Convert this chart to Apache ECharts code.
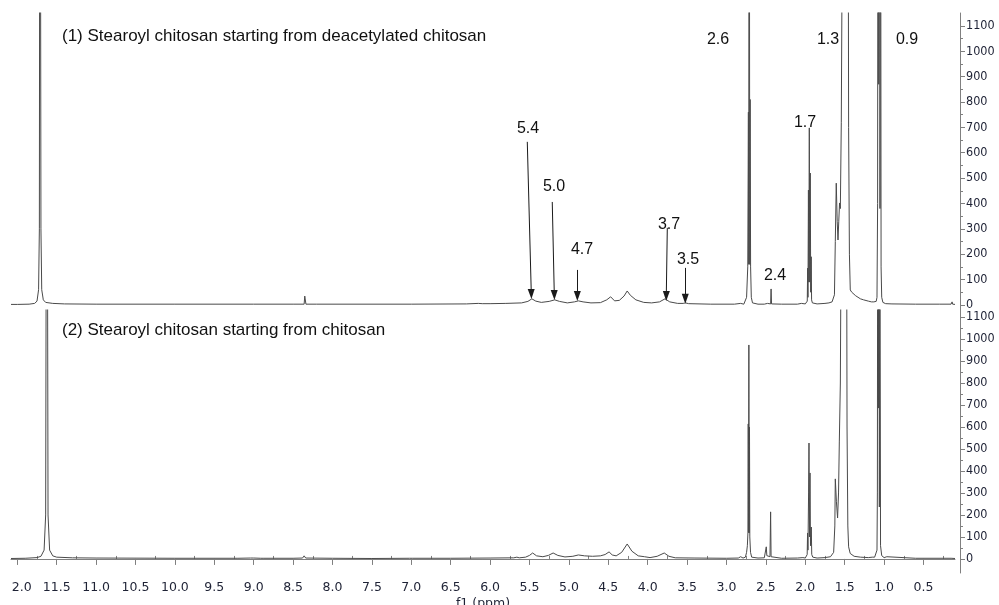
<!DOCTYPE html>
<html>
<head>
<meta charset="utf-8">
<script src="https://cdn.jsdelivr.net/npm/echarts@6/dist/echarts.min.js"></script>
<style>
html,body{margin:0;padding:0;background:#fff;}
#chart{width:999px;height:605px;}
</style>
</head>
<body>
<div id="chart"></div>
<script>
// ---------- data ----------
// x axis tick values (ppm) and the labels as shown (the 12.0 label is clipped to "2.0")
const xTickValues = [12.0,11.5,11.0,10.5,10.0,9.5,9.0,8.5,8.0,7.5,7.0,6.5,6.0,5.5,5.0,4.5,4.0,3.5,3.0,2.5,2.0,1.5,1.0,0.5];
const xTickLabels = ['2.0','11.5','11.0','10.5','10.0','9.5','9.0','8.5','8.0','7.5','7.0','6.5','6.0','5.5','5.0','4.5','4.0','3.5','3.0','2.5','2.0','1.5','1.0','0.5'];
const xMinorTickValues = [11.75,11.25,10.75,10.25,9.75,9.25,8.75,8.25,7.75,7.25,6.75,6.25,5.75,5.25,4.75,4.25,3.75,3.25,2.75,2.25,1.75,1.25,0.75,0.25];
const yTickValues = [0,100,200,300,400,500,600,700,800,900,1000,1100];
const yMinorTickValues = [50,150,250,350,450,550,650,750,850,950,1050];

// spectrum (1): stearoyl chitosan from deacetylated chitosan
const topPpm = [12.08,12.0,11.85,11.78,11.75,11.73,11.72,11.712,11.70,11.69,11.67,11.64,11.55,11.4,11.0,10.0,9.0,8.5,8.36,8.352,8.345,8.337,8.2,7.0,6.3,6.15,6.10,6.0,5.8,5.6,5.52,5.47,5.42,5.35,5.25,5.18,5.12,5.02,4.93,4.88,4.82,4.72,4.60,4.52,4.47,4.42,4.36,4.30,4.26,4.22,4.15,4.05,3.95,3.85,3.78,3.72,3.62,3.55,3.52,3.48,3.2,2.9,2.82,2.80,2.78,2.77,2.745,2.730,2.722,2.718,2.712,2.705,2.700,2.694,2.685,2.67,2.6,2.52,2.48,2.465,2.440,2.434,2.428,2.3,2.1,2.05,2.00,1.990,1.975,1.970,1.966,1.960,1.955,1.949,1.943,1.937,1.931,1.925,1.920,1.91,1.85,1.75,1.70,1.66,1.63,1.619,1.607,1.595,1.585,1.575,1.565,1.555,1.543,1.530,1.520,1.49,1.463,1.450,1.44,1.429,1.41,1.387,1.36,1.344,1.30,1.26,1.20,1.16,1.150,1.13,1.10,1.090,1.082,1.076,1.068,1.060,1.052,1.045,1.038,1.030,1.015,0.98,0.965,0.955,0.9,0.6,0.3,0.15,0.137,0.13,0.1];
const topIntensity = [2,2,3,6,15,60,300,3000,300,60,20,10,6,4,3,3,3,3,3,35,35,3,3,3,4,6,5,5,6,8,14,24,15,10,14,20,14,8,12,16,12,8,9,20,32,16,18,35,55,38,20,10,8,12,24,12,6,6,8,5,3,3,6,8,3,8,30,150,760,160,3000,160,810,150,30,8,3,3,6,3,4,63,4,3,3,6,4,5,15,145,30,453,90,698,90,520,50,190,20,8,4,6,8,12,40,250,480,330,256,330,402,380,718,1500,3000,5000,3000,700,200,59,50,47,36,31,24,20,15,12,16,12,14,30,400,3000,870,3000,380,2500,150,30,10,5,12,5,4,3,3,3,12,3,2];

// spectrum (2): stearoyl chitosan from chitosan
const bottomPpm = [12.08,11.9,11.75,11.70,11.66,11.64,11.625,11.61,11.59,11.55,11.50,11.3,11.0,10.0,9.2,9.04,9.02,9.00,8.91,8.89,8.87,8.5,8.38,8.36,8.34,8.0,7.5,7.02,7.0,6.98,6.5,6.0,5.70,5.66,5.63,5.55,5.50,5.46,5.41,5.33,5.26,5.20,5.14,5.05,4.95,4.88,4.80,4.70,4.60,4.54,4.49,4.45,4.40,4.33,4.26,4.20,4.12,4.04,3.97,3.88,3.79,3.73,3.65,3.4,3.0,2.85,2.82,2.79,2.76,2.745,2.735,2.728,2.724,2.720,2.716,2.712,2.708,2.704,2.695,2.68,2.6,2.52,2.505,2.495,2.488,2.48,2.448,2.440,2.434,2.42,2.3,2.1,2.03,2.0,1.985,1.976,1.971,1.966,1.958,1.953,1.947,1.940,1.934,1.924,1.918,1.905,1.85,1.75,1.68,1.64,1.625,1.619,1.605,1.590,1.578,1.568,1.555,1.545,1.535,1.51,1.484,1.470,1.460,1.450,1.43,1.408,1.38,1.30,1.20,1.15,1.12,1.10,1.090,1.085,1.078,1.072,1.066,1.060,1.054,1.045,1.03,1.0,0.965,0.955,0.6,0.15,0.14,0.132,0.1];
const bottomIntensity = [2,3,6,12,40,200,3000,200,40,14,8,5,4,3,3,4,9,4,3,7,3,3,4,14,4,3,2,3,5,3,3,4,5,8,5,8,16,27,14,10,16,27,16,9,12,18,14,12,14,20,32,18,14,30,68,35,14,10,6,12,27,12,5,4,3,4,10,4,8,30,60,118,614,120,973,118,600,100,30,8,4,5,10,55,15,8,10,214,10,5,3,4,6,4,8,20,118,40,300,527,100,391,60,145,20,8,4,6,10,30,150,364,260,186,300,532,800,1500,3000,5000,3000,600,150,55,25,18,12,8,6,8,8,12,40,300,3000,686,3000,236,2000,60,15,6,10,4,3,3,10,3,2];

// arrow annotations on spectrum (1): [ppm start, value start, ppm end, value end]
const arrows = [
  [5.528, 643, 5.477, 43],
  [5.211, 406, 5.185, 39],
  [4.893, 138, 4.893, 35],
  [3.751, 304, 3.764, 35],
  [3.523, 146, 3.523, 24]
];
// peak labels (text, pixel centre)
const peakLabels = [
  ['2.6', 718, 40], ['1.3', 828, 40], ['0.9', 907, 40],
  ['5.4', 528, 129], ['5.0', 554, 187], ['4.7', 582, 250],
  ['3.7', 669, 225], ['3.5', 688, 260], ['2.4', 775, 276], ['1.7', 805, 123]
];
const panelTitles = [
  ['(1) Stearoyl chitosan starting from deacetylated chitosan', 62, 36],
  ['(2) Stearoyl chitosan starting from chitosan', 62, 330]
];

// ---------- chart ----------
const zip = (a, b) => a.map((v, i) => [v, b[i]]);
const X_MIN = 0.1, X_MAX = 12.08;
const labelFont = 'DejaVu Sans, Verdana, sans-serif';
const yFont = '"DejaVu Sans Condensed", "Liberation Sans Narrow", "DejaVu Sans", sans-serif';
const textFont = '"Liberation Sans", Arial, sans-serif';
const axisGray = '#808080';
const labelColor = '#1e2235';

function yAxes(grid, min, max) {
  return [
    {
      type: 'value', gridIndex: grid, position: 'right', offset: 5, min: min, max: max,
      splitLine: {show: false},
      axisLine: {show: true, lineStyle: {color: axisGray, width: 1}},
      axisTick: {show: true, length: 5, customValues: yTickValues, lineStyle: {color: axisGray}},
      axisLabel: {show: true, customValues: yTickValues, margin: 6, fontFamily: yFont, fontSize: 12.5, color: labelColor,
        formatter: v => String(Math.round(v))}
    },
    {
      type: 'value', gridIndex: grid, position: 'right', offset: 5, min: min, max: max,
      splitLine: {show: false},
      axisLine: {show: false},
      axisTick: {show: true, length: 3, customValues: yMinorTickValues, lineStyle: {color: axisGray}},
      axisLabel: {show: false}
    }
  ];
}

const chart = echarts.init(document.getElementById('chart'), null, {renderer: 'canvas'});

const graphics = [];
panelTitles.forEach(t => graphics.push({
  type: 'text', x: t[1], y: t[2],
  style: {text: t[0], font: '17px ' + textFont, fill: '#111', align: 'left', verticalAlign: 'middle'}
}));
peakLabels.forEach(t => graphics.push({
  type: 'text', x: t[1], y: t[2],
  style: {text: t[0], font: '16px ' + textFont, fill: '#111', align: 'center', verticalAlign: 'middle'}
}));

const option = {
  backgroundColor: '#ffffff',
  animation: false,
  grid: [
    {left: 11, right: 44, top: 13, height: 297, outerBoundsMode: 'none', containLabel: false},
    {left: 11, right: 44, top: 310, height: 263, outerBoundsMode: 'none', containLabel: false}
  ],
  xAxis: [
    {type: 'value', gridIndex: 0, inverse: true, min: X_MIN, max: X_MAX, show: false, splitLine: {show: false}},
    {
      type: 'value', gridIndex: 1, inverse: true, min: X_MIN, max: X_MAX,
      splitLine: {show: false},
      axisLine: {show: true, lineStyle: {color: axisGray, width: 1}},
      axisTick: {show: true, length: 6, customValues: xTickValues, lineStyle: {color: axisGray}},
      axisLabel: {
        show: true, customValues: xTickValues, margin: 8,
        fontFamily: labelFont, fontSize: 12.5, color: labelColor,
        formatter: function (v) {
          const i = xTickValues.findIndex(t => Math.abs(t - v) < 1e-6);
          const s = i >= 0 ? xTickLabels[i] : '';
          return i === 0 ? '{f|' + s + '}' : s;
        },
        rich: {f: {padding: [0, 0, 0, 9], fontFamily: labelFont, fontSize: 12.5, color: labelColor}}
      },
      name: 'f1 (ppm)', nameLocation: 'middle', nameGap: 24,
      nameTextStyle: {fontFamily: labelFont, fontSize: 12.5, color: labelColor}
    },
    {
      type: 'value', gridIndex: 1, inverse: true, min: X_MIN, max: X_MAX,
      splitLine: {show: false},
      axisLine: {show: false},
      axisTick: {show: true, length: 3, customValues: xMinorTickValues, lineStyle: {color: axisGray}},
      axisLabel: {show: false}
    }
  ],
  yAxis: [].concat(yAxes(0, -20, 1151), yAxes(1, -64, 1132)),
  series: [
    {
      type: 'line', xAxisIndex: 0, yAxisIndex: 0, data: zip(topPpm, topIntensity),
      showSymbol: false, clip: true, smooth: false,
      lineStyle: {color: '#4a4a4a', width: 1},
      markLine: {
        silent: true, symbol: ['none', 'triangle'], symbolSize: [7, 10],
        lineStyle: {color: '#1a1a1a', width: 1, type: 'solid'},
        label: {show: false},
        data: arrows.map(a => [{coord: [a[0], a[1]]}, {coord: [a[2], a[3]]}])
      }
    },
    {
      type: 'line', xAxisIndex: 1, yAxisIndex: 2, data: zip(bottomPpm, bottomIntensity),
      showSymbol: false, clip: true, smooth: false,
      lineStyle: {color: '#4a4a4a', width: 1}
    }
  ],
  graphic: graphics
};
chart.setOption(option);
</script>
</body>
</html>
